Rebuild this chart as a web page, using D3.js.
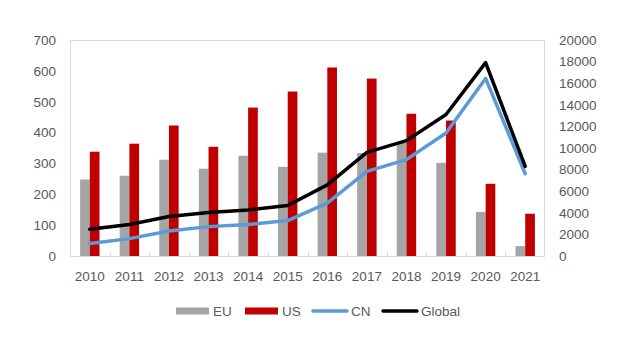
<!DOCTYPE html>
<html>
<head>
<meta charset="utf-8">
<script src="https://cdn.jsdelivr.net/npm/d3@7"></script>
<style>
  body { margin: 0; background: #fff; }
  text { font-family: "Liberation Sans", Arial, sans-serif; }
</style>
</head>
<body>
<div id="chart"></div>
<script>
const years = ['2010','2011','2012','2013','2014','2015','2016','2017','2018','2019','2020','2021'];
const eu = [248, 260, 312, 283, 325, 289, 335, 334, 366, 302, 143, 32];
const us = [338, 364, 423, 354, 481, 533, 611, 575, 461, 439, 234, 137];
const cn = [1150, 1610, 2320, 2720, 2910, 3280, 4890, 7830, 8920, 11390, 16440, 7620];
const globalVals = [2480, 2910, 3650, 4030, 4270, 4680, 6590, 9600, 10680, 13100, 17900, 8300];
const leftTicks = [0, 100, 200, 300, 400, 500, 600, 700];
const rightTicks = [0, 2000, 4000, 6000, 8000, 10000, 12000, 14000, 16000, 18000, 20000];

const width = 643, height = 338;
const plot = {left: 70, right: 545, top: 40, bottom: 256};
const textColor = '#595959';
const fontSize = '13.5px';

const svg = d3.select('#chart').append('svg')
    .attr('width', width)
    .attr('height', height);

const x = d3.scaleBand().domain(years).range([plot.left, plot.right]).padding(0);
const gap = x.bandwidth() * 0.255;
const xInner = d3.scaleBand().domain(['EU','US']).range([gap, x.bandwidth() - gap]).padding(0);
const yL = d3.scaleLinear().domain([0, 700]).range([plot.bottom, plot.top]);
const yR = d3.scaleLinear().domain([0, 20000]).range([plot.bottom, plot.top]);

// plot area border
svg.append('rect')
    .attr('x', plot.left + 0.5)
    .attr('y', plot.top + 0.5)
    .attr('width', plot.right - plot.left - 1)
    .attr('height', plot.bottom - plot.top)
    .attr('fill', 'none')
    .attr('stroke', '#d9d9d9');

// category tick marks
svg.selectAll('.cat-tick')
    .data(years.slice(1))
    .enter().append('line')
    .attr('x1', d => Math.round(x(d)) + 0.5)
    .attr('x2', d => Math.round(x(d)) + 0.5)
    .attr('y1', plot.bottom)
    .attr('y2', plot.bottom - 4)
    .attr('stroke', '#d9d9d9');

// bars
const barSeries = [
    {name: 'EU', values: eu, color: '#a5a5a5'},
    {name: 'US', values: us, color: '#c00000'}
];
barSeries.forEach(s => {
    svg.append('g').selectAll('rect')
        .data(s.values)
        .enter().append('rect')
        .attr('x', (d, i) => x(years[i]) + xInner(s.name))
        .attr('y', d => yL(d))
        .attr('width', xInner.bandwidth())
        .attr('height', d => yL(0) - yL(d))
        .attr('fill', s.color);
});

// lines
const lineSeries = [
    {name: 'CN', values: cn, color: '#5b9bd5'},
    {name: 'Global', values: globalVals, color: '#000000'}
];
const line = d3.line()
    .x((d, i) => x(years[i]) + x.bandwidth() / 2)
    .y(d => yR(d));
lineSeries.forEach(s => {
    svg.append('path')
        .datum(s.values)
        .attr('d', line)
        .attr('fill', 'none')
        .attr('stroke', s.color)
        .attr('stroke-width', 3.5)
        .attr('stroke-linejoin', 'round')
        .attr('stroke-linecap', 'round');
});

// axes
const leftAxis = svg.append('g')
    .attr('transform', `translate(${plot.left}, 0)`)
    .call(d3.axisLeft(yL).tickValues(leftTicks).tickSize(0).tickPadding(14));
const rightAxis = svg.append('g')
    .attr('transform', `translate(${plot.right}, 0)`)
    .call(d3.axisRight(yR).tickValues(rightTicks).tickSize(0).tickPadding(14).tickFormat(d3.format('d')));
const bottomAxis = svg.append('g')
    .attr('transform', `translate(0, ${plot.bottom})`)
    .call(d3.axisBottom(x).tickSize(0).tickPadding(15));

[leftAxis, rightAxis, bottomAxis].forEach(g => {
    g.select('.domain').remove();
    g.selectAll('text')
        .attr('fill', textColor)
        .style('font-size', fontSize)
        .style('font-family', '"Liberation Sans", Arial, sans-serif');
});

// legend
const legendItems = [
    {name: 'EU', color: '#a5a5a5', type: 'rect', x: 176},
    {name: 'US', color: '#c00000', type: 'rect', x: 245},
    {name: 'CN', color: '#5b9bd5', type: 'line', x: 312},
    {name: 'Global', color: '#000000', type: 'line', x: 382}
];
const legendY = 311;
const legend = svg.append('g');
legendItems.forEach(item => {
    if (item.type === 'rect') {
        legend.append('rect')
            .attr('x', item.x).attr('y', legendY - 3.5)
            .attr('width', 33).attr('height', 7)
            .attr('fill', item.color);
    } else {
        legend.append('line')
            .attr('x1', item.x + 1).attr('x2', item.x + 35)
            .attr('y1', legendY).attr('y2', legendY)
            .attr('stroke', item.color)
            .attr('stroke-width', 3.5)
            .attr('stroke-linecap', 'round');
    }
    legend.append('text')
        .attr('x', item.x + (item.type === 'rect' ? 37 : 39))
        .attr('y', legendY)
        .attr('dy', '0.35em')
        .attr('fill', textColor)
        .style('font-size', fontSize)
        .text(item.name);
});
</script>
</body>
</html>
